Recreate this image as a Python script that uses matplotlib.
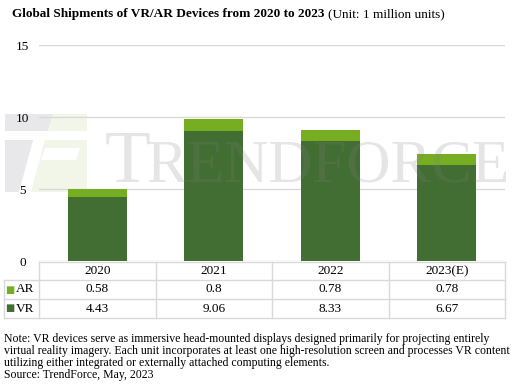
import numpy as np
import matplotlib.pyplot as plt
import matplotlib.transforms as mtransforms
from matplotlib.patches import Polygon

plt.rcParams['font.family'] = ['Liberation Serif', 'DejaVu Serif']

# Datos del grafico
years = ["2020", "2021", "2022", "2023(E)"]
vr = [4.43, 9.06, 8.33, 6.67]
ar = [0.58, 0.8, 0.78, 0.78]
yticks = [0, 5, 10, 15]

c_vr = "#436e33"
c_ar = "#77ae21"
c_grid = "#d9d9d9"

W, H = 529, 388
fig = plt.figure(figsize=(W / 100, H / 100), dpi=100)
ax = fig.add_axes([39 / W, 1 - 261 / H, 466 / W, 216 / H])
ax.patch.set_alpha(0)

x = np.arange(len(years))
ax.bar(x, vr, width=0.51, color=c_vr, zorder=2)
ax.bar(x, ar, width=0.51, bottom=vr, color=c_ar, zorder=2)

ax.set_xlim(-0.5, len(years) - 0.5)
ax.set_ylim(0, 15)
ax.set_yticks(yticks)
ax.set_yticklabels([str(v) for v in yticks], fontsize=9.5)
ax.tick_params(axis="y", length=0, pad=12)
for lab in ax.get_yticklabels():
    lab.set_horizontalalignment("center")
ax.set_xticks([])
ax.grid(axis="y", color=c_grid, linewidth=1, zorder=0)
for s in ax.spines.values():
    s.set_visible(False)

# Marca de agua (logo + texto)
def px(pts):
    return [(a / W, 1 - b / H) for a, b in pts]

logo_gris = "#e8e8ea"
logo_verde = "#f1f6e8"
for pts, col in [
    ([(5, 114), (53, 114), (48, 131), (5, 131)], logo_gris),
    ([(5, 140), (33, 140), (19, 192), (5, 192)], logo_gris),
    ([(53, 114), (87, 114), (87, 131), (48, 131)], logo_verde),
    ([(45, 140), (87, 140), (87, 192), (31, 192)], logo_verde),
    ([(45, 148), (80, 148), (76, 160), (41, 160)], "white"),
]:
    fig.patches.append(Polygon(px(pts), closed=True, facecolor=col,
                               edgecolor="none", transform=fig.transFigure,
                               zorder=-1))

ax.text(0.067, 5.49, "T", fontsize=54, color="#808080", alpha=0.2,
        ha="left", va="baseline", zorder=3)
ax.text(0.42, 5.49, "RENDFORCE", fontsize=44, color="#808080", alpha=0.2,
        ha="left", va="baseline", zorder=3)

# Tabla de datos (dibujada a mano)
tr = mtransforms.blended_transform_factory(ax.transData, ax.transAxes)
def fy(p):
    return (261 - p) / 216

x_lab = -0.5 - 35 / 116.5
filas_y = [262, 280, 299, 318]
lw = 1
# lineas horizontales
ax.plot([-0.5, 3.5], [fy(262)] * 2, color=c_grid, lw=lw, transform=tr, clip_on=False)
for py in filas_y[1:]:
    ax.plot([x_lab, 3.5], [fy(py)] * 2, color=c_grid, lw=lw, transform=tr, clip_on=False)
# lineas verticales
ax.plot([x_lab, x_lab], [fy(280), fy(318)], color=c_grid, lw=lw, transform=tr, clip_on=False)
for xv in np.arange(len(years) + 1) - 0.5:
    ax.plot([xv, xv], [fy(262), fy(318)], color=c_grid, lw=lw, transform=tr, clip_on=False)

for i, yr in enumerate(years):
    ax.text(i, fy(271), yr, ha="center", va="center", fontsize=9.5, transform=tr)

rows = [("AR", ar, c_ar), ("VR", vr, c_vr)]
for j, (name, vals, col) in enumerate(rows):
    yc = fy((filas_y[j + 1] + filas_y[j + 2]) / 2)
    ax.text(x_lab + 6 / 116.5, yc, "■", color=col, fontsize=7, ha="center",
            va="center", transform=tr, family="DejaVu Sans")
    ax.text(x_lab + 12 / 116.5, yc, name, fontsize=9.5, ha="left", va="center",
            transform=tr)
    for i, v in enumerate(vals):
        ax.text(i, yc, str(v), ha="center", va="center", fontsize=9.5, transform=tr)

# Titulo
t = fig.text(12 / W, 1 - 14 / H, "Global Shipments of VR/AR Devices from 2020 to 2023",
             fontsize=9.5, fontweight="bold", va="center")
fig.canvas.draw()
bb = t.get_window_extent()
fig.text(bb.x1 / W + 3 / W, 1 - 14 / H, "(Unit: 1 million units)", fontsize=9.5,
         va="center")

note = ("Note: VR devices serve as immersive head-mounted displays designed primarily for projecting entirely\n"
        "virtual reality imagery. Each unit incorporates at least one high-resolution screen and processes VR content\n"
        "utilizing either integrated or externally attached computing elements.\n"
        "Source: TrendForce, May, 2023")
fig.text(4 / W, 1 - 333 / H, note, fontsize=8.5, va="top", linespacing=1.0)

fig.savefig("out.png", dpi=100)
